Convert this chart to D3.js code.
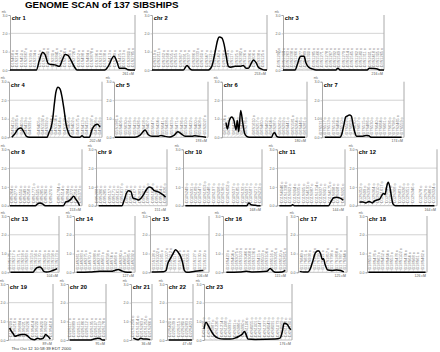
<!DOCTYPE html>
<html><head><meta charset="utf-8">
<script src="https://cdn.jsdelivr.net/npm/d3@7"></script>
<style>body{margin:0;background:#fff}svg{display:block}</style>
</head><body>
<svg id="c" width="440" height="352"></svg>
<script>
// ---------------- DATA ----------------
const title = "GENOME SCAN of 137 SIBSHIPS";
const footer = "Thu Oct 12 10:58:39 EDT 2000";
const chromosomes = ["1","2","3","4","5","6","7","8","9","10","11","12","13","14","15","16","17","18","19","20","21","22","23"];
const lengthsCM = [261,253,216,202,193,180,174,153,151,168,144,164,104,127,106,115,125,126,89,95,36,47,176];
const yTicks = [0,1,2,3];
const yUnit = "mls";
const threshold = 2.0;

// MLS curves: [cM, mls]
const mls1 = [[0,0],[55,0],[61,0.5],[68,0.95],[73,0.85],[80,0.35],[87,0.3],[94,0.28],[103,0.2],[110,0.6],[115,0.85],[121,0.8],[128,0.5],[135,0.15],[140,0],[198,0],[205,0.2],[217,0.75],[224,0.4],[228,0.1],[240,0.1],[246,0.02],[257,0],[261,0]];
const mls2 = [[0,0],[69,0],[77,0.25],[84,0.05],[88,0],[124,0],[131.6,0.2],[139,1.0],[144,1.6],[148,1.8],[153.5,1.75],[158.6,1.4],[163,0.8],[168,0.2],[173,0.15],[183,0.2],[194,0.2],[201,0.25],[207,0.1],[212,0.1],[218,0.35],[223,0.55],[229,0.4],[234,0.15],[241,0.05],[248.6,0],[253,0]];
const mls3 = [[0,0],[25.7,0],[30.7,0.3],[35,0.65],[38.5,0.75],[45,0.75],[49,0.4],[55,0.15],[63.5,0.05],[70.6,0],[113,0],[117.6,0.1],[122,0],[180,0],[184.7,0.1],[194.6,0.08],[201.8,0.05],[207.5,0],[216,0]];
const mls4 = [[6,0],[13,0.2],[20,0.45],[26,0.5],[31,0.35],[38,0.05],[44,0],[82,0],[87.6,0.3],[91,0.5],[95,1.0],[98.5,1.8],[102,2.45],[106.4,2.7],[111,2.6],[115,2.2],[119.5,1.5],[124,0.7],[129,0.25],[134,0.05],[140,0],[154,0],[158.6,0.08],[163,0],[174.5,0],[180,0.4],[186,0.65],[192,0.7],[197.7,0.55]];
const mls5 = [[2,0],[43,0],[53,0.1],[64,0.4],[70,0.15],[78,0.05],[90,0.05],[96.5,0.1],[105,0.05],[115,0.02],[123,0.1],[131,0.3],[137.5,0.2],[146,0.05],[160,0.05],[166,0.08],[176.5,0.05],[189,0]];
const mls6 = [[8.5,0.8],[11.2,0.45],[15.5,0.9],[20.5,1.1],[25.4,0.9],[29.6,0.4],[32.4,0.9],[35.4,0.3],[39.6,1.45],[43.8,0.8],[48,0.2],[52.3,0.05],[57.8,0],[105,0],[108.6,0.2],[111.5,0.25],[115.8,0.05],[121,0],[176,0]];
const mls7 = [[6,0],[38,0],[42.4,0.2],[46.7,0.7],[50.2,1.1],[53.8,1.15],[58,1.2],[62.2,1.15],[65.8,0.7],[69.3,0.3],[73.6,0.05],[84,0.05],[93.4,0.1],[99,0.08],[105.4,0],[169,0]];
const mls8 = [[2,0],[55,0],[60,0.1],[65,0.15],[70,0.1],[76,0],[114,0],[119,0.2],[125,0.25],[130,0.35],[135.5,0.5],[140,0.35],[144,0.2],[148,0]];
const mls9 = [[5.7,0],[55,0],[60,0.3],[64.5,0.65],[68.8,0.8],[74.4,0.75],[78.7,0.4],[85.8,0.35],[90.8,0.3],[95.7,0.4],[101.4,0.6],[107,0.85],[112.7,1.0],[118.4,0.95],[124,0.8],[131,0.75],[138,0.65],[144,0.55],[148,0.45]];
const mls10 = [[5,0],[136,0],[139.7,0.15],[144.6,0.05],[153.8,0.02],[161,0],[165,0]];
const mls11 = [[5,0],[29.8,0],[33,0.05],[36.7,0],[109,0],[115,0.25],[120,0.42],[126.6,0.45],[133.6,0.4],[140.5,0.3]];
const mls12 = [[5.2,0.2],[11.8,0.2],[18.3,0.15],[24.8,0.22],[31.3,0.15],[36,0.25],[41,0.3],[46.4,0.35],[51,0.55],[54,0.65],[57.5,0.6],[60.7,1.0],[64,1.25],[67.3,1.0],[70.5,0.5],[73.8,0.1],[79,0],[158.7,0]];
const mls13 = [[3,0],[50,0],[54.4,0.15],[58.5,0.25],[63.4,0.28],[68,0.22],[72.3,0.05],[77.9,0.02],[86,0.05],[93.7,0.12],[99.9,0.2]];
const mls14 = [[5.5,0],[33,0.02],[54,0.05],[68,0.05],[78,0.05],[85,0.1],[92,0.15],[99,0.08],[106,0.02],[120,0]];
const mls15 = [[3,0.02],[24,0.03],[28.8,0.1],[32.3,0.5],[36,0.7],[40.7,0.95],[46,1.2],[51,1.05],[55,0.85],[58.7,0.5],[61.7,0.1],[66,0],[81,0.05],[96,0.1]];
const mls16 = [[6,0],[30,0.02],[42,0.05],[54,0.02],[78.7,0.05],[84.7,0.2],[89.5,0.08],[93.8,0],[106,0.02],[112,0.1]];
const mls17 = [[4.3,0.05],[14.5,0.02],[25.7,0.02],[31.7,0.2],[38.5,0.65],[44.5,1.05],[51.4,1.15],[57.4,1.0],[61.6,0.7],[65,0.72],[69.3,0.4],[76,0.12],[85.6,0.1],[98.4,0.12],[108.7,0.1],[117,0.02]];
const mls18 = [[3,0],[123,0]];
const mls19 = [[3.3,0.65],[6,0.5],[10,0.35],[13.8,0.2],[19.8,0.25],[26.4,0.3],[33,0.3],[39.5,0.2],[46,0.05],[52.7,0.02],[58.6,0.1],[64,0.05],[69.9,0.1],[74.5,0.3],[79,0.2],[83.7,0.05]];
const mls20 = [[4,0],[54.7,0],[64.8,0.05],[74,0.1],[80,0.08],[86.6,0],[92.5,0]];
const mls21 = [[4,0.1],[7.5,0.05],[12.2,0.02],[16.8,0.1],[21.5,0.05],[27.3,0.05],[33,0.02]];
const mls22 = [[3,0],[45,0]];
const mls23 = [[0,0.6],[4,0.95],[8,0.8],[14,0.5],[20,0.25],[28,0.1],[40,0.05],[52,0.05],[62,0.1],[70,0.2],[76,0.3],[81,0.45],[84,0.3],[88,0.05],[102,0.03],[142,0.05],[152,0.1],[157,0.5],[160,0.9],[166,0.85],[172,0.6],[174,0.55]];
const curves = [mls1,mls2,mls3,mls4,mls5,mls6,mls7,mls8,mls9,mls10,mls11,mls12,mls13,mls14,mls15,mls16,mls17,mls18,mls19,mls20,mls21,mls22,mls23];

// Marker positions (cM) and names
const mPos1 = [4,14,24,33,42,52,61,70,79,88,97,106,115,124,133,143,152,161,170,180,189,198,208,218,228,238,248,258];
const mPos2 = [3,13,23,32,42,52,62,71,80,90,99,108,118,127,137,146,156,165,175,184,194,204,214,224,234,244];
const mPos3 = [8,18,29,36,43,54,61,68,79,86,93,104,111,122,129,136,147,154,161,172,179,190,197,204,211];
const mPos4 = [8,17,26,35,44,64,73,82,89,98,107,116,125,134,150,160,168,177,186,196];
const mPos5 = [3,13,22,32,42,51,61,70,80,90,99,109,118,128,138,147,157,167,176,186];
const mPos6 = [4,11,18,25,32,39,73,82,89,98,105,112,123,131,140,150,158,168,176];
const mPos7 = [8.5,15.6,22.6,31,45,51,57,62,69,82,89,96,105,117,124.5,131.6,138.7,145.7,152.8,165.5];
const mPos8 = [5.6,14,21.8,30,38.6,47.7,56.8,65.3,73.7,82.8,104,113,121.5,130,139,147.5];
const mPos9 = [7.8,16.3,24.8,33.3,41.8,50.3,58.8,73,81.5,90,98.6,107,115.6,124,132.6,141,148];
const mPos10 = [8.5,17,26,35.5,45,54.6,65,76,85,93.6,107.8,116,125.5,134.7,143,151.7,161];
const mPos11 = [9,18,27.7,36.7,45.7,55.4,64.4,73.4,83,92,101,110.7,119.7,128.7,137];
const mPos12 = [7,15,22.9,30.7,38.5,46.4,54,62,70,77.7,94.7,103,113,131,139,147,154.8];
const mPos13 = [4,12.4,21.4,29.6,37.9,50.3,58.6,67.5,76.5,84.7,93,101.3];
const mPos14 = [7,16,25,33.3,43.7,52.7,62.5,71.5,80.5,88.8,97,106,115,123.5];
const mPos15 = [6,13,21,28,36,43,51,59,66,81,90,97];
const mPos16 = [9,17,24,31.5,39,47,54.5,61.7,69.6,78.6,86,93.8,103,112];
const mPos17 = [8.6,19.7,30,40,51,62.5,72.8,85.6,98.4,111,122];
const mPos18 = [5.5,15,24,33,42.7,51.7,62,69,77,86,96.4,106.8,115.7];
const mPos19 = [4.6,13,21.7,31,39.5,48,57,66,74.5,83.7];
const mPos20 = [6,17,28,38,48,59,70,80,90];
const mPos21 = [5,12,19,26,33];
const mPos22 = [7,14.5,21.7,29,36,43];
const mPos23 = [4,17,25,32,39,45,52,59,65,72,99,105,112,119,125,132,139,149,155,162,169];
const markerPositions = [mPos1,mPos2,mPos3,mPos4,mPos5,mPos6,mPos7,mPos8,mPos9,mPos10,mPos11,mPos12,mPos13,mPos14,mPos15,mPos16,mPos17,mPos18,mPos19,mPos20,mPos21,mPos22,mPos23];

const markerNames = [
"D1S468 D1S214 D1S450 D1S2667 D1S199 D1S234 D1S255 D1S2797 D1S2890 D1S230 D1S2841 D1S207 D1S2766 D1S206 D1S2726 D1S252 D1S498 D1S484 D1S2878 D1S196 D1S218 D1S238 D1S413 D1S249 D1S425 D1S213 D1S2800 D1S2785",
"D2S319 D2S2211 D2S162 D2S168 D2S305 D2S165 D2S367 D2S391 D2S337 D2S286 D2S2333 D2S160 D2S347 D2S112 D2S151 D2S142 D2S326 D2S364 D2S117 D2S325 D2S2382 D2S126 D2S396 D2S206 D2S338 D2S125",
"D3S1297 D3S1304 D3S1263 D3S2338 D3S1266 D3S1277 D3S1289 D3S1300 D3S1285 D3S1566 D3S1271 D3S1278 D3S1267 D3S1292 D3S1569 D3S1279 D3S1614 D3S1565 D3S1262 D3S1580 D3S1311 D3S1601 D3S2418 D3S1305 D3S1265",
"D4S412 D4S2935 D4S403 D4S419 D4S391 D4S405 D4S1592 D4S392 D4S2964 D4S1534 D4S414 D4S1572 D4S406 D4S402 D4S1575 D4S413 D4S415 D4S1597 D4S408 D4S426",
"D5S1981 D5S406 D5S630 D5S416 D5S419 D5S426 D5S418 D5S407 D5S647 D5S424 D5S641 D5S428 D5S433 D5S471 D5S436 D5S410 D5S422 D5S400 D5S408 D5S2027",
"D6S1574 D6S309 D6S470 D6S289 D6S422 D6S276 D6S1610 D6S257 D6S460 D6S462 D6S434 D6S287 D6S262 D6S292 D6S441 D6S1581 D6S264 D6S446 D6S281",
"D7S531 D7S517 D7S513 D7S516 D7S484 D7S510 D7S502 D7S669 D7S630 D7S657 D7S515 D7S486 D7S530 D7S640 D7S684 D7S661 D7S636 D7S798 D7S2465 D7S559",
"D8S264 D8S277 D8S550 D8S549 D8S258 D8S1771 D8S505 D8S285 D8S260 D8S270 D8S1784 D8S514 D8S284 D8S272 D8S256 D8S373",
"D9S288 D9S286 D9S285 D9S157 D9S171 D9S161 D9S1817 D9S273 D9S175 D9S167 D9S283 D9S287 D9S1690 D9S1677 D9S290 D9S164 D9S1826",
"D10S249 D10S591 D10S189 D10S547 D10S1653 D10S548 D10S197 D10S208 D10S196 D10S1652 D10S537 D10S185 D10S192 D10S597 D10S587 D10S217 D10S212",
"D11S4046 D11S1338 D11S902 D11S904 D11S935 D11S905 D11S4191 D11S987 D11S1314 D11S937 D11S901 D11S4175 D11S898 D11S908 D11S925",
"D12S352 D12S99 D12S336 D12S364 D12S310 D12S1617 D12S345 D12S85 D12S368 D12S83 D12S326 D12S351 D12S346 D12S78 D12S79 D12S86 D12S324",
"D13S175 D13S217 D13S171 D13S218 D13S263 D13S153 D13S156 D13S170 D13S265 D13S159 D13S158 D13S173",
"D14S261 D14S283 D14S275 D14S70 D14S288 D14S276 D14S63 D14S258 D14S74 D14S68 D14S280 D14S65 D14S985 D14S292",
"D15S128 D15S1002 D15S165 D15S1007 D15S1012 D15S117 D15S153 D15S131 D15S205 D15S127 D15S130 D15S120",
"D16S423 D16S404 D16S3075 D16S3103 D16S3046 D16S3068 D16S3136 D16S415 D16S503 D16S3106 D16S516 D16S3091 D16S520 D16S2621",
"D17S849 D17S831 D17S938 D17S1852 D17S799 D17S921 D17S1857 D17S798 D17S1868 D17S787 D17S944",
"D18S59 D18S476 D18S63 D18S452 D18S464 D18S53 D18S478 D18S1102 D18S474 D18S64 D18S68 D18S61 D18S462",
"D19S209 D19S216 D19S884 D19S221 D19S226 D19S414 D19S220 D19S420 D19S902 D19S418",
"D20S117 D20S889 D20S115 D20S186 D20S112 D20S195 D20S107 D20S119 D20S178",
"D21S1256 D21S1914 D21S263 D21S1252 D21S266",
"D22S420 D22S539 D22S315 D22S280 D22S283 D22S423",
"DXS1060 DXS8051 DXS987 DXS1226 DXS1214 DXS1068 DXS993 DXS991 DXS986 DXS990 DXS1106 DXS8055 DXS1001 DXS1047 DXS1227 DXS8043 DXS8091 DXS1073 DXS8069 DXS1108 DXS1190"
].map(s => s.split(" "));

// ---------------- LAYOUT ----------------
const rows = [[0,1,2],[3,4,5,6],[7,8,9,10,11],[12,13,14,15,16,17],[18,19,20,21,22]];
const rowTop = [15, 81.7, 149.3, 216, 284];
const rowBottom = [70, 137.3, 205.7, 272.3, 340];
const panelLeft  = [10,152,283, 9,114,222,322, 9,96,183,277,357, 9,74,150,223,298,367, 8,68,131,167,204];
const panelRight = [135,267,384, 102,208,307,404, 82,167,262,345,437, 59,135,209,287,347,427, 53,106,152,193,292];

const FONT = "'Liberation Sans', Arial, Helvetica, sans-serif";
const svg = d3.select("#c").style("font-family", FONT);

svg.append("text").attr("x", 25).attr("y", 8.1)
  .attr("font-size", 9.8).attr("font-weight", "bold").attr("fill", "#000")
  .text(title);

svg.append("text").attr("x", 11.5).attr("y", 350.3)
  .attr("font-size", 4.3).attr("fill", "#333").text(footer);

rows.forEach((row, r) => {
  row.forEach(i => {
    const L = lengthsCM[i];
    const left = panelLeft[i], right = panelRight[i];
    const top = rowTop[r], bottom = rowBottom[r];
    const x = d3.scaleLinear().domain([0, L]).range([left, right]);
    const y = d3.scaleLinear().domain([0, 3]).range([bottom, top]);
    const g = svg.append("g");

    // threshold gridline
    g.append("line").attr("x1", left).attr("x2", right)
      .attr("y1", y(threshold)).attr("y2", y(threshold))
      .attr("stroke", "#c8c8c8").attr("stroke-width", 0.8);

    // left axis
    const ax = g.append("g").attr("transform", `translate(${left},0)`)
      .call(d3.axisLeft(y).tickValues(yTicks).tickFormat(d3.format(".1f")).tickSize(1.5).tickPadding(1));
    ax.select(".domain").attr("stroke", "#aaa").attr("stroke-width", 1);
    ax.selectAll(".tick line").attr("stroke", "#999").attr("stroke-width", 0.5);
    ax.selectAll(".tick text").attr("font-size", 3.6).attr("fill", "#666").attr("font-family", FONT);

    // right edge
    g.append("line").attr("x1", right).attr("x2", right).attr("y1", top).attr("y2", bottom)
      .attr("stroke", "#aaa").attr("stroke-width", 1);

    // units
    g.append("text").attr("x", left - 4).attr("y", top - 2.3).attr("text-anchor", "end")
      .attr("font-size", 2.8).attr("fill", "#666").text(yUnit);

    // baseline
    g.append("line").attr("x1", left).attr("x2", right).attr("y1", y(0)).attr("y2", y(0))
      .attr("stroke", "#999").attr("stroke-width", 0.6);

    // marker labels, spread to avoid overlap
    const pos = markerPositions[i];
    const names = markerNames[i];
    const gap = 4.3, lo = left + 2.5, hi = right - 2;
    const lx = pos.map(p => x(p));
    for (let k = 0; k < lx.length; k++) lx[k] = k === 0 ? Math.max(lx[k], lo) : Math.max(lx[k], lx[k-1] + gap);
    if (lx[lx.length-1] > hi) {
      lx[lx.length-1] = hi;
      for (let k = lx.length - 2; k >= 0; k--) lx[k] = Math.min(lx[k], lx[k+1] - gap);
    }
    const base = y(0.15);
    g.selectAll(".conn").data(pos).enter().append("line")
      .attr("x1", (d, k) => lx[k]).attr("y1", base)
      .attr("x2", d => x(d)).attr("y2", y(0))
      .attr("stroke", "#bbb").attr("stroke-width", 0.4);
    g.selectAll(".mk").data(pos).enter().append("text")
      .attr("transform", (d, k) => `translate(${lx[k] + 1.4},${base}) rotate(-90)`)
      .attr("font-size", 3.9).attr("fill", "#7c7c7c")
      .text((d, k) => names[k] + " o");

    // curve
    g.append("path").datum(curves[i])
      .attr("fill", "none").attr("stroke", "#000").attr("stroke-width", 1.5)
      .attr("stroke-linejoin", "round")
      .attr("d", d3.line().x(d => x(d[0])).y(d => y(d[1])).curve(d3.curveMonotoneX));

    // chromosome label
    g.append("text").attr("x", left + 1.8).attr("y", top + 5)
      .attr("font-size", 5.8).attr("font-weight", "bold").attr("fill", "#000")
      .text("chr " + chromosomes[i]);

    // length label
    g.append("text").attr("x", right - 1).attr("y", bottom + 5).attr("text-anchor", "end")
      .attr("font-size", 3.5).attr("fill", "#555").text(L + " cM");
  });
});
</script>
</body></html>
